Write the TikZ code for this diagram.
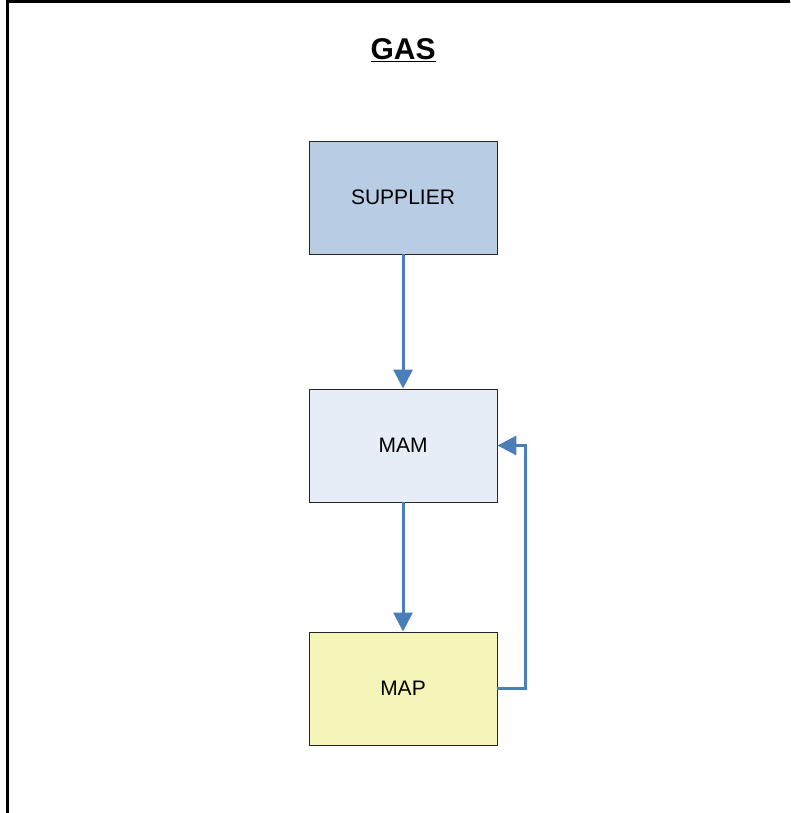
\documentclass[tikz,border=0pt]{standalone}
\usepackage{fontspec}
\setmainfont{Liberation Sans}
\usetikzlibrary{arrows.meta}

\definecolor{supplierfill}{HTML}{B8CCE4}
\definecolor{mamfill}{HTML}{E6EDF7}
\definecolor{mapfill}{HTML}{F5F5B9}
\definecolor{flowblue}{HTML}{4A7EBB}

\begin{document}
\begin{tikzpicture}[
        x=1pt, y=-1pt,
        block/.style={draw=black!85, line width=0.9pt, minimum width=188pt, minimum height=113pt,
            inner sep=0pt, font=\fontsize{21}{25}\selectfont},
        flow/.style={draw=flowblue, line width=3pt, -{Triangle[length=19pt,width=19pt]}}
    ]
    
    \useasboundingbox (0,0) rectangle (790,813);
    \clip (0,0) rectangle (790,813);
    
    % Frame
    \draw[line width=3pt] (7.5,2) rectangle (820,840);
    
    % Title
    \node (title) at (403,50) {\fontsize{30}{36}\selectfont\bfseries\underline{GAS}};
    
    % Boxes
    \node[block, fill=supplierfill] (supplier) at (403,197.5) {SUPPLIER};
    \node[block, fill=mamfill] (mam) at (403,445.5) {MAM};
    \node[block, fill=mapfill] (map) at (403,688.5) {MAP};
    
    % Flows
    \draw[flow] (supplier) -- (mam);
    \draw[flow] (mam) -- (map);
    \draw[flow] (map.east) -- ++(28,0) |- (mam.east);
    
\end{tikzpicture}
\end{document}
